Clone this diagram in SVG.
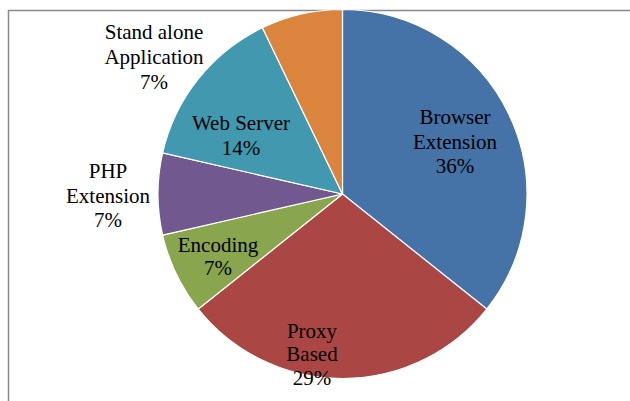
<svg xmlns="http://www.w3.org/2000/svg" width="630" height="401" viewBox="0 0 630 401">
<style>
.s{stroke:#fff;stroke-width:1.2;stroke-linejoin:round}
.t{font-family:"Liberation Serif","Times New Roman",serif;font-size:21px;fill:#000;text-anchor:middle}
.f{fill:none;stroke:#898989;stroke-width:1.5}
</style>
<rect width="630" height="401" fill="#fff"/>
<path class="f" d="M8.5,401 V10.5 H630"/>
<g id="slices">
<g id="browser-extension"><path class="s" fill="#4572A7" d="M342.5,194 L342.5,9.5 A184.5,184.5 0 0 1 486.75,309.03 Z"/></g>
<g id="proxy-based"><path class="s" fill="#AA4643" d="M342.5,194 L486.75,309.03 A184.5,184.5 0 0 1 198.25,309.03 Z"/></g>
<g id="encoding"><path class="s" fill="#89A54E" d="M342.5,194 L198.25,309.03 A184.5,184.5 0 0 1 162.63,235.05 Z"/></g>
<g id="php-extension"><path class="s" fill="#71588F" d="M342.5,194 L162.63,235.05 A184.5,184.5 0 0 1 162.63,152.95 Z"/></g>
<g id="web-server"><path class="s" fill="#4198AF" d="M342.5,194 L162.63,152.95 A184.5,184.5 0 0 1 262.45,27.77 Z"/></g>
<g id="stand-alone"><path class="s" fill="#DB843D" d="M342.5,194 L262.45,27.77 A184.5,184.5 0 0 1 342.5,9.5 Z"/></g>
</g>
<g id="labels">
<text class="t" x="455" y="124">Browser</text>
<text class="t" x="455" y="149">Extension</text>
<text class="t" x="455" y="173">36%</text>
<text class="t" x="312" y="338">Proxy</text>
<text class="t" x="312" y="361">Based</text>
<text class="t" x="312" y="385">29%</text>
<text class="t" x="218" y="252">Encoding</text>
<text class="t" x="218" y="275">7%</text>
<text class="t" x="108" y="178">PHP</text>
<text class="t" x="108" y="203">Extension</text>
<text class="t" x="108" y="227">7%</text>
<text class="t" x="241" y="130">Web Server</text>
<text class="t" x="241" y="155">14%</text>
<text class="t" x="154" y="39">Stand alone</text>
<text class="t" x="154" y="64">Application</text>
<text class="t" x="154" y="89">7%</text>
</g>
</svg>
